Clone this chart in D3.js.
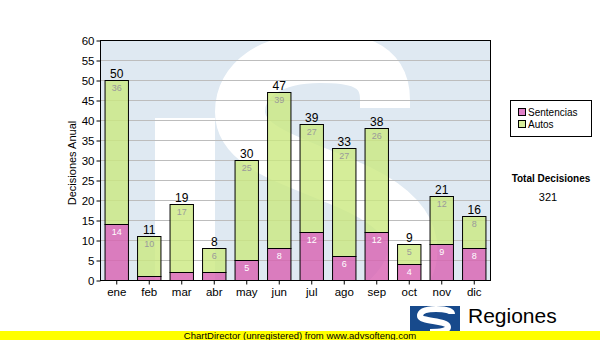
<!DOCTYPE html>
<html>
<head>
<meta charset="utf-8">
<script src="https://cdn.jsdelivr.net/npm/d3@7"></script>
<style>
	body { margin: 0; background: #fff; }
	text { font-family: "Liberation Sans", Arial, sans-serif; }
</style>
</head>
<body>
<div id="graph"></div>
<script>

var months = ["ene", "feb", "mar", "abr", "may", "jun", "jul", "ago", "sep", "oct", "nov", "dic"];
var sentencias = [14, 1, 2, 2, 5, 8, 12, 6, 12, 4, 9, 8];
var autos = [36, 10, 17, 6, 25, 39, 27, 27, 26, 5, 12, 8];
var seriesNames = ["Sentencias", "Autos"];
var yTicks = [0, 5, 10, 15, 20, 25, 30, 35, 40, 45, 50, 55, 60];

var width = 600
var height = 340

var plot = { left: 100, right: 490, top: 40, bottom: 280 };

var pink = "#d860b0";
var green = "#cbe880";

var svg = d3.select("#graph")
	.append("svg")
	.attr("width", width)
	.attr("height", height);

var x = d3.scaleBand()
	.domain(months)
	.range([plot.left, plot.right])
	.paddingInner(0.28)
	.paddingOuter(0.14);

var y = d3.scaleLinear()
	.domain([0, 60])
	.range([plot.bottom, plot.top]);

var data = months.map((m, i) => ({ month: m, s: sentencias[i], a: autos[i], total: sentencias[i] + autos[i] }));

// watermark logo behind the plot
svg.append("clipPath")
	.attr("id", "plotclip")
	.append("rect")
	.attr("x", plot.left)
	.attr("y", plot.top)
	.attr("width", plot.right - plot.left)
	.attr("height", plot.bottom - plot.top);

var wm = svg.append("g").attr("clip-path", "url(#plotclip)");

wm.append("rect")
	.attr("x", plot.left)
	.attr("y", plot.top)
	.attr("width", plot.right - plot.left)
	.attr("height", plot.bottom - plot.top)
	.attr("fill", "#dfe9f2");

wm.append("rect")
	.attr("x", 155)
	.attr("y", 118)
	.attr("width", 60)
	.attr("height", 170)
	.attr("fill", "#fff");

wm.append("path")
	.attr("d", "M385,108 L385,100 C385,62 352,58 320,58 C270,58 240,80 240,112 C240,150 300,162 360,190 C425,222 425,262 385,300")
	.attr("fill", "none")
	.attr("stroke", "#fff")
	.attr("stroke-width", 50);

// grid lines
svg.append("g")
	.selectAll("line")
	.data(yTicks.filter((d) => d > 0 && d < 60))
	.enter()
	.append("line")
	.attr("x1", plot.left)
	.attr("x2", plot.right)
	.attr("y1", (d) => y(d) + 0.5)
	.attr("y2", (d) => y(d) + 0.5)
	.attr("stroke", "#bdbdbd")
	.attr("stroke-width", 1);

// bars
var bar = svg.append("g")
	.selectAll("g")
	.data(data)
	.enter()
	.append("g");

bar.append("rect")
	.attr("x", (d) => x(d.month) + 0.5)
	.attr("y", (d) => y(d.s) + 0.5)
	.attr("width", x.bandwidth())
	.attr("height", (d) => y(0) - y(d.s))
	.attr("fill", pink)
	.attr("fill-opacity", 0.8)
	.attr("stroke", "#000");

bar.append("rect")
	.attr("x", (d) => x(d.month) + 0.5)
	.attr("y", (d) => y(d.total) + 0.5)
	.attr("width", x.bandwidth())
	.attr("height", (d) => y(d.s) - y(d.total))
	.attr("fill", green)
	.attr("fill-opacity", 0.8)
	.attr("stroke", "#000");

bar.filter((d) => d.s >= 4)
	.append("text")
	.attr("x", (d) => x(d.month) + x.bandwidth() / 2 + 0.5)
	.attr("y", (d) => y(d.s) + 10.5)
	.attr("text-anchor", "middle")
	.attr("font-size", "9px")
	.attr("fill", "#fff")
	.text((d) => d.s);

bar.filter((d) => d.a >= 4)
	.append("text")
	.attr("x", (d) => x(d.month) + x.bandwidth() / 2 + 0.5)
	.attr("y", (d) => y(d.total) + 10.5)
	.attr("text-anchor", "middle")
	.attr("font-size", "9px")
	.attr("fill", "#9a9a9a")
	.text((d) => d.a);

bar.append("text")
	.attr("x", (d) => x(d.month) + x.bandwidth() / 2 + 0.5)
	.attr("y", (d) => y(d.total) - 2.5)
	.attr("text-anchor", "middle")
	.attr("font-size", "12px")
	.attr("fill", "#000")
	.text((d) => d.total);

// plot frame
svg.append("rect")
	.attr("x", plot.left + 0.5)
	.attr("y", plot.top + 0.5)
	.attr("width", plot.right - plot.left)
	.attr("height", plot.bottom - plot.top)
	.attr("fill", "none")
	.attr("stroke", "#000");

// axes
var yAxis = svg.append("g")
	.attr("transform", "translate(" + (plot.left + 0.5) + ",0.5)")
	.call(d3.axisLeft(y).tickValues(yTicks).tickSize(4).tickPadding(2));

var xAxis = svg.append("g")
	.attr("transform", "translate(0.5," + (plot.bottom + 0.5) + ")")
	.call(d3.axisBottom(x).tickSize(4).tickPadding(3));

[yAxis, xAxis].forEach((ax) => {
	ax.select(".domain").remove();
	ax.selectAll("text")
		.attr("fill", "#000")
		.style("font-family", "'Liberation Sans', Arial, sans-serif")
		.style("font-size", "11.5px");
	ax.selectAll("line").attr("stroke", "#000");
});

svg.append("text")
	.attr("transform", "translate(76,163) rotate(-90)")
	.attr("text-anchor", "middle")
	.attr("font-size", "11px")
	.text("Decisiones Anual");

// legend
var legend = svg.append("g");

legend.append("rect")
	.attr("x", 510.5)
	.attr("y", 100.5)
	.attr("width", 81)
	.attr("height", 36)
	.attr("fill", "#fff")
	.attr("stroke", "#000");

var legendElem = legend.selectAll("g")
	.data(seriesNames)
	.enter()
	.append("g")
	.attr("transform", (d, i) => "translate(518," + (108 + i * 12) + ")");

legendElem.append("rect")
	.attr("x", 0.5)
	.attr("y", 0.5)
	.attr("width", 7)
	.attr("height", 7)
	.attr("fill", (d, i) => i === 0 ? "#e080c8" : "#d6ee9c")
	.attr("stroke", "#000");

legendElem.append("text")
	.attr("x", 10)
	.attr("y", 8)
	.attr("font-size", "10px")
	.text((d) => d);

svg.append("text")
	.attr("x", 551)
	.attr("y", 182)
	.attr("text-anchor", "middle")
	.attr("font-size", "10px")
	.attr("font-weight", "bold")
	.text("Total Decisiones");

svg.append("text")
	.attr("x", 548)
	.attr("y", 201)
	.attr("text-anchor", "middle")
	.attr("font-size", "11px")
	.text(d3.sum(data, (d) => d.total));

// small logo at the bottom
var logo = svg.append("g");

logo.append("rect")
	.attr("x", 410)
	.attr("y", 306)
	.attr("width", 50)
	.attr("height", 26)
	.attr("fill", "#174a8c");

logo.append("path")
	.attr("d", "M452,314 C452,310 444,309 436,309 C424,309 420,312 420,316 C420,322 448,320 448,327 C448,331 440,332 430,332")
	.attr("fill", "none")
	.attr("stroke", "#fff")
	.attr("stroke-width", 6);

logo.append("text")
	.attr("x", 468)
	.attr("y", 323)
	.attr("font-size", "21px")
	.text("Regiones");

logo.append("text")
	.attr("x", 468)
	.attr("y", 337.5)
	.attr("font-size", "9px")
	.attr("font-weight", "bold")
	.text("Tribunal Supremo de Justicia");

// unregistered banner
svg.append("rect")
	.attr("x", 0)
	.attr("y", 331)
	.attr("width", width)
	.attr("height", 9)
	.attr("fill", "#ffff00");

svg.append("text")
	.attr("x", 300)
	.attr("y", 338.5)
	.attr("text-anchor", "middle")
	.attr("font-size", "9.5px")
	.text("ChartDirector (unregistered) from www.advsofteng.com");

</script>
</body>
</html>
